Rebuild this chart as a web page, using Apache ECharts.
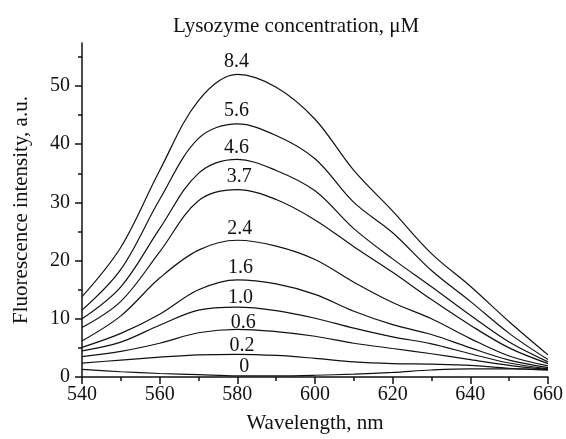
<!DOCTYPE html>
<html>
<head>
<meta charset="utf-8">
<script src="https://cdn.jsdelivr.net/npm/echarts@6/dist/echarts.min.js"></script>
<style>
  html, body { margin: 0; padding: 0; background: #fff; }
  #main { width: 566px; height: 439px; }
</style>
</head>
<body>
<div id="main"></div>
<script>
// wavelength grid, nm
var wavelengths = [540, 550, 560, 570, 580, 590, 600, 610, 620, 630, 640, 650, 660];

// fluorescence per lysozyme concentration (uM)
var conc = ['8.4', '5.6', '4.6', '3.7', '2.4', '1.6', '1.0', '0.6', '0.2', '0'];
var c84 = [13.8, 22.3, 35.5, 47.5, 52.0, 49.8, 44.3, 35.5, 28.5, 21.2, 15.6, 9.5, 3.8];
var c56 = [11.5, 18.5, 30.5, 41.0, 43.5, 41.5, 37.5, 30.0, 24.8, 18.3, 13.0, 7.5, 3.0];
var c46 = [10.0, 15.5, 25.5, 35.0, 37.4, 35.5, 32.0, 25.5, 20.3, 15.5, 10.6, 6.0, 2.6];
var c37 = [8.5, 13.0, 21.5, 30.3, 32.2, 30.5, 27.0, 22.4, 18.0, 13.3, 8.9, 5.0, 2.3];
var c24 = [6.2, 10.5, 17.0, 21.8, 23.5, 22.5, 20.2, 16.3, 12.8, 10.0, 6.6, 3.6, 1.9];
var c16 = [5.1, 7.5, 10.8, 15.0, 16.7, 16.0, 14.2, 11.3, 9.0, 7.3, 5.0, 2.9, 1.6];
var c10 = [4.5, 6.0, 8.9, 11.5, 12.0, 11.4, 10.1, 8.4, 6.9, 5.7, 4.0, 2.4, 1.4];
var c06 = [3.5, 4.4, 5.8, 7.6, 8.2, 7.8, 7.0, 5.8, 4.9, 4.0, 3.0, 2.0, 1.3];
var c02 = [2.4, 2.9, 3.4, 3.8, 3.9, 3.7, 3.2, 2.6, 2.3, 2.2, 2.0, 1.5, 1.2];
var c00 = [1.3, 0.9, 0.6, 0.4, 0.2, 0.2, 0.3, 0.5, 0.8, 1.2, 1.4, 1.4, 1.2];

// where the concentration labels sit
var labelX = [579.8, 579.8, 579.8, 580.5, 580.6, 580.8, 580.8, 581.5, 581.2, 581.8];
var labelY = [54.1, 45.7, 39.4, 34.4, 25.4, 18.8, 13.6, 9.4, 5.3, 1.7];

var yTicks = [0, 10, 20, 30, 40, 50];

var font = '"Liberation Serif", "DejaVu Serif", serif';
var ink = '#111';

var curves = [c84, c56, c46, c37, c24, c16, c10, c06, c02, c00];

var series = curves.map(function (vals, i) {
  return {
    name: conc[i],
    type: 'line',
    smooth: 0.35,
    showSymbol: false,
    data: vals.map(function (v, j) { return [wavelengths[j], v]; }),
    lineStyle: { color: '#111', width: 1.2 },
    silent: true
  };
});

series.push({
  type: 'scatter',
  symbolSize: 0,
  silent: true,
  itemStyle: { opacity: 1 },
  data: conc.map(function (c, i) { return [labelX[i], labelY[i], c]; }),
  label: {
    show: true,
    position: 'inside',
    formatter: function (p) { return p.data[2]; },
    color: ink,
    fontFamily: font,
    fontSize: 20
  }
});

var chart = echarts.init(document.getElementById('main'));

var option = {
  animation: false,
  title: {
    text: 'Lysozyme concentration, \u03bcM',
    left: 168,
    top: 11,
    textStyle: { fontFamily: font, fontSize: 21, fontWeight: 'normal', color: ink }
  },
  grid: { left: 82, right: 17, top: 43, bottom: 55 },
  xAxis: {
    type: 'value',
    min: 540,
    max: 660,
    interval: 20,
    name: 'Wavelength, nm',
    nameLocation: 'middle',
    nameGap: 36,
    nameTextStyle: { fontFamily: font, fontSize: 21, color: ink },
    axisLine: { lineStyle: { color: ink, width: 1.5 } },
    axisTick: { length: 7, lineStyle: { color: ink, width: 1.5 } },
    minorTick: { show: true, splitNumber: 2, length: 4, lineStyle: { color: ink, width: 1.5 } },
    axisLabel: { fontFamily: font, fontSize: 20, color: ink, margin: 8 },
    splitLine: { show: false }
  },
  yAxis: {
    type: 'value',
    min: 0,
    max: 57.4,
    interval: 10,
    name: 'Fluorescence intensity, a.u.',
    nameLocation: 'middle',
    nameGap: 50,
    nameTextStyle: { fontFamily: font, fontSize: 21, color: ink },
    axisLine: { show: true, lineStyle: { color: ink, width: 1.5 } },
    axisTick: { show: true, length: 7, customValues: yTicks, lineStyle: { color: ink, width: 1.5 } },
    minorTick: { show: true, splitNumber: 2, length: 4, lineStyle: { color: ink, width: 1.5 } },
    axisLabel: { fontFamily: font, fontSize: 20, color: ink, margin: 12, customValues: yTicks },
    splitLine: { show: false }
  },
  series: series
};

chart.setOption(option);
</script>
</body>
</html>
